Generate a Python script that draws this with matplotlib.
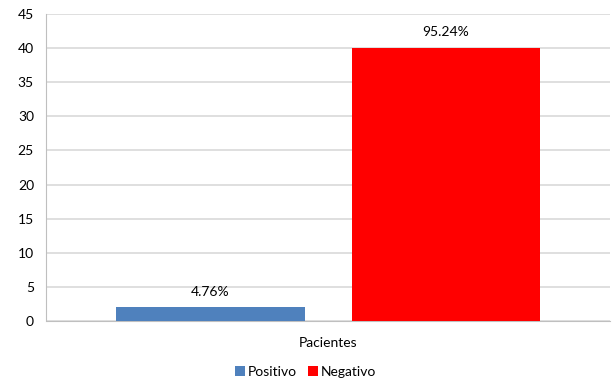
import matplotlib
matplotlib.use("Agg")
import matplotlib.pyplot as plt

# datos del grafico
categorias = ["Pacientes"]
series = ["Positivo", "Negativo"]
valores = [2, 40]
etiquetas = ["4.76%", "95.24%"]
colores = ["#4F81BD", "#FF0000"]

plt.rcParams["font.family"] = ["Lato", "DejaVu Sans"]

fig = plt.figure(figsize=(6.12, 3.81), dpi=100)
ax = fig.add_axes([46.5 / 612, 1 - 321 / 381, (610 - 46.5) / 612, (321 - 14) / 381])

ancho = 0.334
offsets = [-0.209, 0.209]
for nombre, val, etq, col, off in zip(series, valores, etiquetas, colores, offsets):
    ax.bar(off, val, width=ancho, color=col, label=nombre, zorder=3)
    ax.annotate(etq, (off, val), xytext=(0, 7), textcoords="offset points",
                ha="center", va="bottom", fontsize=10, color="#000000")

ax.set_xlim(-0.5, 0.5)
ax.set_ylim(0, 45)
ax.set_yticks(range(0, 46, 5))
ax.set_xticks([0])
ax.set_xticklabels(categorias)
ax.tick_params(axis="both", length=0, labelsize=10, colors="#000000")
ax.tick_params(axis="y", pad=9)
ax.tick_params(axis="x", pad=11.5)
ax.grid(axis="y", color="#D9D9D9", linewidth=1.2, zorder=0)
for s in ["top", "right"]:
    ax.spines[s].set_visible(False)
ax.spines["left"].set_color("#BFBFBF")
ax.spines["bottom"].set_color("#BFBFBF")

ax.legend(loc="center", bbox_to_anchor=(0.4596, -0.166), ncol=2,
          frameon=False, fontsize=10, handlelength=0.7, handleheight=0.7,
          handletextpad=0.22, columnspacing=0.8, borderaxespad=0, borderpad=0)

fig.savefig("out.png", dpi=100)
